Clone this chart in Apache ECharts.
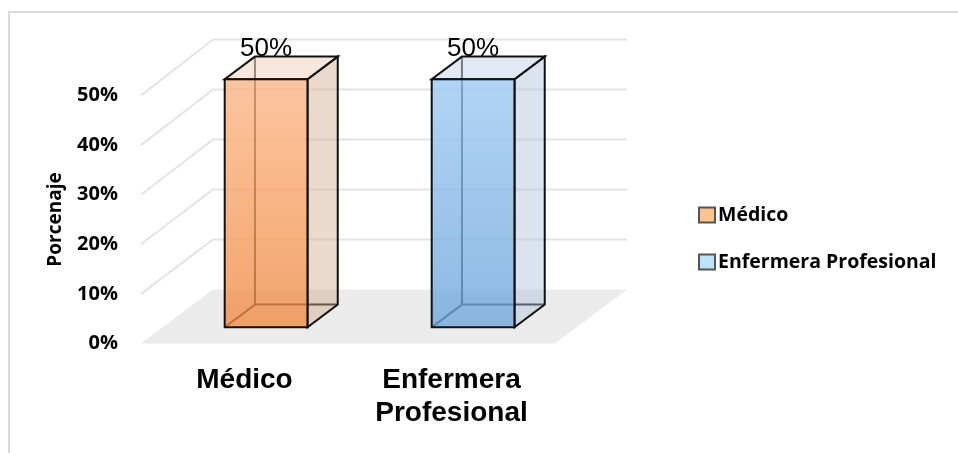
<!DOCTYPE html>
<html>
<head>
<meta charset="utf-8">
<script src="https://cdn.jsdelivr.net/npm/echarts@6/dist/echarts.min.js"></script>
<style>
html,body{margin:0;padding:0;background:#fff;}
#chart{width:958px;height:453px;}
</style>
</head>
<body>
<div id="chart"></div>
<script>
// ---- data ----
var categories = ['Médico', 'Enfermera Profesional'];
var categoryLabels = ['Médico', 'Enfermera\nProfesional'];
var values = [50, 50];
var yTicks = [0, 10, 20, 30, 40, 50];
var axisTitle = 'Porcenaje';

// ---- styling (not data) ----
var DX = 72, DY = -54;           // floor depth offset in px
var BACK_SCALE = 250 / 248;      // slight perspective of back wall
var F1 = 0.3, F2 = 0.72;         // bar depth position (fraction of floor depth)
var BAR_W = 0.4;                 // bar width fraction of band
var styles = [
  {
    front: ['rgba(251,181,133,0.78)', 'rgba(240,138,65,0.78)'],
    side: 'rgba(211,170,142,0.45)',
    top: 'rgba(240,214,197,0.6)',
    legend: '#f9c38e'
  },
  {
    front: ['rgba(156,200,242,0.78)', 'rgba(108,165,220,0.78)'],
    side: 'rgba(175,196,218,0.45)',
    top: 'rgba(200,216,235,0.55)',
    legend: '#bde2f9'
  }
];

var chart = echarts.init(document.getElementById('chart'), null, {renderer: 'canvas'});

function sceneRender(params, api) {
  var bw = api.size([1, 0])[0];
  var p0 = api.coord([0, yTicks[0]]);
  var pN = api.coord([categories.length - 1, yTicks[0]]);
  var xl = p0[0] - bw / 2, xr = pN[0] + bw / 2, y0 = p0[1];
  var children = [];
  children.push({
    type: 'polygon',
    shape: {points: [[xl, y0], [xr, y0], [xr + DX, y0 + DY], [xl + DX, y0 + DY]]},
    style: {fill: '#ebebeb'}
  });
  for (var k = 1; k < yTicks.length; k++) {
    var yf = api.coord([0, yTicks[k]])[1];
    var yb = y0 + DY + (yf - y0) * BACK_SCALE;
    children.push({
      type: 'polyline',
      shape: {points: [[xl, yf], [xl + DX, yb], [xr + DX, yb]]},
      style: {stroke: '#e4e4e4', lineWidth: 2, fill: null}
    });
  }
  return {type: 'group', children: children};
}

function makeBarRender(si) {
  return function (params, api) {
    var i = api.value(0), v = api.value(1);
    var c = api.coord([i, v]);
    var c0 = api.coord([i, 0]);
    var bw = api.size([1, 0])[0];
    var w = bw * BAR_W;
    var x1 = c[0] - w / 2 + F1 * DX, x2 = x1 + w;
    var yt = c[1] + F1 * DY, yb = c0[1] + F1 * DY;
    var ddx = (F2 - F1) * DX, ddy = (F2 - F1) * DY;
    var bx1 = x1 + ddx, bx2 = x2 + ddx, byt = yt + ddy, byb = yb + ddy;
    var st = styles[si];
    var edge = {stroke: '#111', lineWidth: 2, fill: null};
    var children = [
      {type: 'line', shape: {x1: bx1, y1: byt, x2: bx1, y2: byb}, style: edge},
      {type: 'line', shape: {x1: bx1, y1: byb, x2: bx2, y2: byb}, style: edge},
      {type: 'line', shape: {x1: x1, y1: yb, x2: bx1, y2: byb}, style: edge},
      {type: 'polygon', shape: {points: [[x2, yt], [bx2, byt], [bx2, byb], [x2, yb]]},
        style: {fill: st.side, stroke: '#111', lineWidth: 2}},
      {type: 'polygon', shape: {points: [[x1, yt], [x2, yt], [bx2, byt], [bx1, byt]]},
        style: {fill: st.top, stroke: '#111', lineWidth: 2}},
      {type: 'rect', shape: {x: x1, y: yt, width: w, height: yb - yt},
        style: {
          fill: new echarts.graphic.LinearGradient(0, 0, 0, 1, [
            {offset: 0, color: st.front[0]}, {offset: 1, color: st.front[1]}
          ]),
          stroke: '#111', lineWidth: 2
        }},
      {type: 'text', x: x1 + w / 2, y: yt - 30,
        style: {text: v + '%', fontFamily: 'Liberation Sans, Arial', fontSize: 26,
          fill: '#000', align: 'center', verticalAlign: 'middle'}}
    ];
    return {type: 'group', children: children};
  };
}

var series = [{
  type: 'custom', name: '_scene', silent: true, z: 1,
  renderItem: sceneRender, data: [[0, 0]]
}];
categories.forEach(function (name, idx) {
  series.push({
    type: 'custom', name: name, z: 2 + idx,
    renderItem: makeBarRender(idx),
    itemStyle: {color: styles[idx].legend},
    data: [[idx, values[idx]]]
  });
});

chart.setOption({
  animation: false,
  backgroundColor: '#fff',
  graphic: [{
    type: 'polyline',
    shape: {points: [[9, 460], [9, 12], [960, 12]]},
    style: {stroke: '#d9d9d9', lineWidth: 2, fill: null},
    silent: true
  }],
  grid: {left: 141, right: 403, top: 95.5, bottom: 109.5},
  xAxis: {
    type: 'category',
    data: categoryLabels,
    axisLine: {show: false}, axisTick: {show: false},
    axisLabel: {
      margin: 20, fontFamily: 'Liberation Sans, Arial', fontWeight: 'bold',
      fontSize: 28, lineHeight: 33, color: '#000', interval: 0
    }
  },
  yAxis: {
    type: 'value', min: yTicks[0], max: yTicks[yTicks.length - 1], interval: 10,
    name: axisTitle, nameLocation: 'middle', nameGap: 76, nameRotate: 90,
    nameTextStyle: {fontFamily: 'Open Sans', fontWeight: 'bold', fontSize: 19, color: '#000'},
    axisLine: {show: false}, axisTick: {show: false}, splitLine: {show: false},
    axisLabel: {
      margin: 23, formatter: '{value}%', fontFamily: 'Open Sans', fontWeight: 'bold',
      fontSize: 20, color: '#000'
    }
  },
  legend: {
    orient: 'vertical', left: 698, top: 205, itemGap: 27, padding: 0,
    itemWidth: 16, itemHeight: 15, icon: 'rect', selectedMode: false,
    data: categories.map(function (n, i) {
      return {name: n, itemStyle: {color: styles[i].legend, borderColor: '#555', borderWidth: 2}};
    }),
    textStyle: {fontFamily: 'Open Sans', fontWeight: 'bold', fontSize: 19.5, lineHeight: 20,
      color: '#000', padding: [0, 0, 0, -2]}
  },
  series: series
});
</script>
</body>
</html>
